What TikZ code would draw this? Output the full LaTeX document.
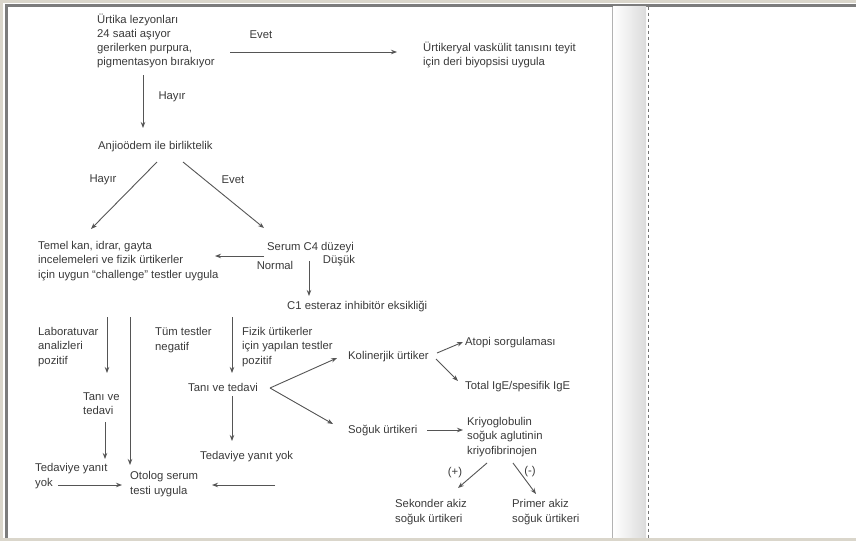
\documentclass[tikz,border=0pt]{standalone}
\usepackage{fontspec}
\setmainfont{Liberation Sans}
\usetikzlibrary{arrows.meta}
\definecolor{txt}{HTML}{3A3A3A}
\definecolor{ln}{HTML}{555555}
\definecolor{beige}{HTML}{DAD6CB}
\definecolor{frame}{HTML}{7C7C7C}
\tikzset{
  lbl/.style={anchor=west, inner sep=0pt, align=left, text=txt,
    font=\fontsize{11.3}{14.2}\selectfont},
  tag/.style={anchor=center, inner sep=0pt, text=txt,
    font=\fontsize{11.3}{14.2}\selectfont},
  arr/.style={draw=ln, line width=0.9pt, -{Stealth[length=6pt,width=4.5pt]}},
}
\begin{document}
\begin{tikzpicture}[x=1pt,y=-1pt]
\useasboundingbox (0,0) rectangle (856,541);
\fill[white] (0,0) rectangle (856,541);
% frame
\fill[beige] (0,0) rectangle (856,2.5);
\fill[beige] (0,0) rectangle (2.5,541);
\fill[beige] (0,537.5) rectangle (856,541);
\fill[frame] (5,4) rectangle (856,6.5);
\fill[frame] (5,4) rectangle (7.5,538);
% gutter
\shade[left color=white, right color=black!14] (613,6.5) rectangle (646,537.5);
\draw[black!30, line width=0.8pt] (612,6.5) -- (612,537.5);
\draw[black!55, line width=1.6pt, dash pattern=on 3pt off 3pt] (648.5,6.5) -- (648.5,537.5);

% nodes
\node[lbl] (n1) at (97,41) {Ürtika lezyonları\\24 saati aşıyor\\gerilerken purpura,\\pigmentasyon bırakıyor};
\node[lbl] (n2) at (423,55) {Ürtikeryal vaskülit tanısını teyit\\için deri biyopsisi uygula};
\node[lbl] (n3) at (98,147) {Anjioödem ile birliktelik};
\node[lbl] (n4) at (38,261) {Temel kan, idrar, gayta\\incelemeleri ve fizik ürtikerler\\için uygun “challenge” testler uygula};
\node[lbl] (n5) at (267,248) {Serum C4 düzeyi};
\node[lbl] (n6) at (287,307) {C1 esteraz inhibitör eksikliği};
\node[lbl] (n7) at (38,347) {Laboratuvar\\analizleri\\pozitif};
\node[lbl] (n8) at (155,340) {Tüm testler\\negatif};
\node[lbl] (n9) at (242,347) {Fizik ürtikerler\\için yapılan testler\\pozitif};
\node[lbl] (n10) at (83,404) {Tanı ve\\tedavi};
\node[lbl] (n11) at (35,476) {Tedaviye yanıt\\yok};
\node[lbl] (n12) at (130,484) {Otolog serum\\testi uygula};
\node[lbl] (n13) at (188,387) {Tanı ve tedavi};
\node[lbl] (n14) at (200,457) {Tedaviye yanıt yok};
\node[lbl] (n15) at (348,357) {Kolinerjik ürtiker};
\node[lbl] (n16) at (348,430) {Soğuk ürtikeri};
\node[lbl] (n17) at (465,343) {Atopi sorgulaması};
\node[lbl] (n18) at (465,387) {Total IgE/spesifik IgE};
\node[lbl] (n19) at (467,437) {Kriyoglobulin\\soğuk aglutinin\\kriyofibrinojen};
\node[lbl] (n20) at (395,512) {Sekonder akiz\\soğuk ürtikeri};
\node[lbl] (n21) at (512,512) {Primer akiz\\soğuk ürtikeri};

% labels
\node[tag] (t1) at (261,35) {Evet};
\node[tag] (t2) at (172,97) {Hayır};
\node[tag] (t3) at (103,180) {Hayır};
\node[tag] (t4) at (233,180) {Evet};
\node[tag] (t5) at (275,265) {Normal};
\node[tag] (t6) at (339,261) {Düşük};
\node[tag] (t7) at (455,473) {(+)};
\node[tag] (t8) at (530,472) {(-)};

% connector ends
\coordinate (a1s) at (230,52);  \coordinate (a1e) at (397,52);
\coordinate (a2s) at (143,75);  \coordinate (a2e) at (143,128);
\coordinate (a3s) at (157,162); \coordinate (a3e) at (91,229);
\coordinate (a4s) at (183,162); \coordinate (a4e) at (264,228);
\coordinate (a5s) at (264,256); \coordinate (a5e) at (215,256);
\coordinate (a6s) at (309,261); \coordinate (a6e) at (309,296);
\coordinate (a7s) at (107,317); \coordinate (a7e) at (107,373);
\coordinate (a8s) at (130,317); \coordinate (a8e) at (130,465);
\coordinate (a9s) at (232,317); \coordinate (a9e) at (232,373);
\coordinate (a10s) at (105,422); \coordinate (a10e) at (105,459);
\coordinate (a11s) at (58,485); \coordinate (a11e) at (122,485);
\coordinate (a12s) at (275,485); \coordinate (a12e) at (212,485);
\coordinate (a13s) at (232,396); \coordinate (a13e) at (232,441);
\coordinate (a14s) at (270,388); \coordinate (a14e) at (337,358);
\coordinate (a15e) at (333,424);
\coordinate (a16s) at (437,353); \coordinate (a16e) at (463,342);
\coordinate (a17s) at (436,359); \coordinate (a17e) at (458,381);
\coordinate (a18s) at (427,430); \coordinate (a18e) at (463,430);
\coordinate (a19s) at (487,463); \coordinate (a19e) at (458,488);
\coordinate (a20s) at (513,463); \coordinate (a20e) at (536,494);

\draw[arr] (a1s) -- (a1e);
\draw[arr] (a2s) -- (a2e);
\draw[arr] (a3s) -- (a3e);
\draw[arr] (a4s) -- (a4e);
\draw[arr] (a5s) -- (a5e);
\draw[arr] (a6s) -- (a6e);
\draw[arr] (a7s) -- (a7e);
\draw[arr] (a8s) -- (a8e);
\draw[arr] (a9s) -- (a9e);
\draw[arr] (a10s) -- (a10e);
\draw[arr] (a11s) -- (a11e);
\draw[arr] (a12s) -- (a12e);
\draw[arr] (a13s) -- (a13e);
\draw[arr] (a14s) -- (a14e);
\draw[arr] (a14s) -- (a15e);
\draw[arr] (a16s) -- (a16e);
\draw[arr] (a17s) -- (a17e);
\draw[arr] (a18s) -- (a18e);
\draw[arr] (a19s) -- (a19e);
\draw[arr] (a20s) -- (a20e);
\end{tikzpicture}
\end{document}
